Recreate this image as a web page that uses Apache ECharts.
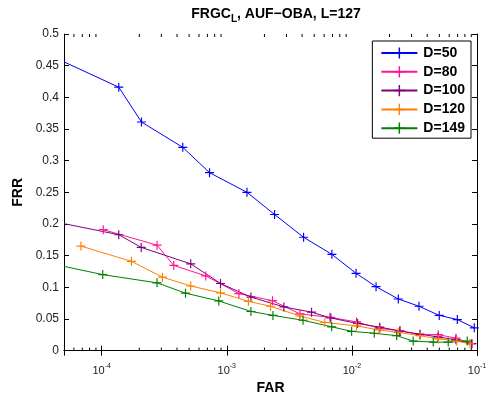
<!doctype html>
<html>
<head>
<meta charset="utf-8">
<script src="https://cdn.jsdelivr.net/npm/echarts@6/dist/echarts.min.js"></script>
<style>
  html, body { margin: 0; padding: 0; background: #fff; }
  #chart { width: 491px; height: 400px; }
</style>
</head>
<body>
<div id="chart"></div>
<script>
// data (FAR on a log scale, FRR linear)
var far50 = [5e-5, 1.37e-4, 2.08e-4, 4.45e-4, 7.28e-4, 1.45e-3, 2.41e-3, 4.11e-3, 6.92e-3, 1.08e-2, 1.56e-2, 2.35e-2, 3.44e-2, 4.99e-2, 6.96e-2, 9.51e-2];
var frr50 = [0.456, 0.416, 0.361, 0.321, 0.281, 0.250, 0.215, 0.179, 0.152, 0.122, 0.101, 0.0815, 0.070, 0.0556, 0.049, 0.036];

var far80 = [1.03e-4, 2.77e-4, 3.77e-4, 6.79e-4, 1.25e-3, 2.32e-3, 3.84e-3, 6.67e-3, 1.09e-2, 1.67e-2, 2.42e-2, 3.50e-2, 4.90e-2, 6.79e-2, 9.08e-2];
var frr80 = [0.191, 0.1665, 0.1345, 0.118, 0.090, 0.0788, 0.058, 0.0525, 0.0453, 0.035, 0.0314, 0.0252, 0.0252, 0.0196, 0.0108];

var far100 = [5e-5, 1.37e-4, 2.07e-4, 5.15e-4, 8.91e-4, 1.56e-3, 2.86e-3, 4.76e-3, 6.79e-3, 1.11e-2, 1.67e-2, 2.42e-2, 3.5e-2, 4.88e-2, 6.79e-2, 9.1e-2];
var frr100 = [0.2005, 0.183, 0.163, 0.137, 0.106, 0.0845, 0.069, 0.0607, 0.0515, 0.0428, 0.037, 0.031, 0.026, 0.0216, 0.017, 0.011];

var far120 = [6.83e-5, 1.73e-4, 3.06e-4, 5.15e-4, 8.91e-4, 1.49e-3, 2.24e-3, 3.84e-3, 6.08e-3, 1.09e-2, 1.65e-2, 2.34e-2, 3.5e-2, 4.9e-2, 6.89e-2, 8.79e-2];
var frr120 = [0.165, 0.141, 0.116, 0.102, 0.0912, 0.0778, 0.070, 0.0546, 0.0444, 0.039, 0.0325, 0.0289, 0.0236, 0.0185, 0.015, 0.0108];

var far149 = [5e-5, 1.02e-4, 2.77e-4, 4.68e-4, 8.63e-4, 1.56e-3, 2.34e-3, 4.07e-3, 6.89e-3, 9.95e-3, 1.51e-2, 2.28e-2, 3.09e-2, 4.47e-2, 5.89e-2, 8.36e-2];
var frr149 = [0.133, 0.120, 0.107, 0.0907, 0.0784, 0.0618, 0.0556, 0.0479, 0.0376, 0.0304, 0.0274, 0.0236, 0.015, 0.0134, 0.0134, 0.015];

var names = ['D=50', 'D=80', 'D=100', 'D=120', 'D=149'];
var colors = ['#0000ff', '#ff1493', '#800080', '#ff8000', '#008000'];

var XMIN = 5e-5, XMAX = 0.1;
// minor ticks of the log axis (2..9 x 10^n)
var minorTicks = [6e-5, 7e-5, 8e-5, 9e-5,
  2e-4, 3e-4, 4e-4, 5e-4, 6e-4, 7e-4, 8e-4, 9e-4,
  2e-3, 3e-3, 4e-3, 5e-3, 6e-3, 7e-3, 8e-3, 9e-3,
  2e-2, 3e-2, 4e-2, 5e-2, 6e-2, 7e-2, 8e-2, 9e-2];

var PLUS = 'path://M-0.13,-1h0.26v2h-0.26z M-1,-0.13h2v0.26h-2z';
var FONT = 'Liberation Sans';

// points sitting on the left border are line ends only (clipped in the original)
function zip(a, b) {
  return a.map(function (v, i) {
    if (v <= XMIN) return { value: [v, b[i]], symbol: 'none' };
    return [v, b[i]];
  });
}

function logLabel(v) {
  var e = Math.round(Math.log10(v));
  if (Math.abs(Math.log10(v) - e) > 1e-6) return '';
  return '{b|10}{s|' + e + '}';
}

var chart = echarts.init(document.getElementById('chart'));

var xs = [far50, far80, far100, far120, far149];
var ys = [frr50, frr80, frr100, frr120, frr149];

var series = names.map(function (n, i) {
  return {
    name: n,
    type: 'line',
    data: zip(xs[i], ys[i]),
    color: colors[i],
    symbol: PLUS,
    symbolSize: 9,
    showAllSymbol: true,
    lineStyle: { width: 1 },
    itemStyle: { color: colors[i] },
    emphasis: { disabled: true },
    animation: false
  };
});

series.push({
  type: 'custom',
  silent: true,
  animation: false,
  data: minorTicks.map(function (v) { return [v, 0]; }),
  renderItem: function (params, api) {
    var x = api.value(0);
    var p0 = api.coord([x, 0]);
    var p1 = api.coord([x, 0.5]);
    return {
      type: 'group',
      children: [
        { type: 'line', shape: { x1: p0[0], y1: p0[1], x2: p0[0], y2: p0[1] - 3 }, style: { stroke: '#000', lineWidth: 1 } },
        { type: 'line', shape: { x1: p1[0], y1: p1[1], x2: p1[0], y2: p1[1] + 3 }, style: { stroke: '#000', lineWidth: 1 } }
      ]
    };
  }
});

var axisLine = { show: true, lineStyle: { color: '#000', width: 1 } };

option = {
  backgroundColor: '#fff',
  textStyle: { fontFamily: FONT },
  title: {
    text: '{t|FRGC}{sub|L}{t|, AUF\u2212OBA, L=127}',
    left: 271, top: 0, textAlign: 'center',
    textStyle: {
      rich: {
        t: { fontFamily: FONT, fontSize: 14, fontWeight: 'bold', color: '#000' },
        sub: { fontFamily: FONT, fontSize: 10, fontWeight: 'bold', color: '#000', padding: [9, 0, 0, 0] }
      }
    }
  },
  legend: {
    data: names,
    orient: 'vertical',
    right: 20, top: 41,
    backgroundColor: '#fff',
    borderColor: '#000', borderWidth: 1, borderRadius: 0,
    padding: [5, 6, 3, 8],
    itemWidth: 36, itemHeight: 14, itemGap: 4.8,
    textStyle: { fontFamily: FONT, fontSize: 14, fontWeight: 'bold', color: '#000', padding: [0, 0, 0, 1] }
  },
  grid: { left: 64, right: 14, top: 34, bottom: 43, containLabel: false },
  xAxis: [{
    type: 'log', min: XMIN, max: XMAX, logBase: 10,
    name: 'FAR', nameLocation: 'middle', nameGap: 26,
    nameTextStyle: { fontFamily: FONT, fontSize: 14, fontWeight: 'bold', color: '#000' },
    axisLine: axisLine,
    axisTick: { inside: true, length: 5, lineStyle: { color: '#000' } },
    splitLine: { show: false },
    axisLabel: {
      margin: 12, color: '#000',
      formatter: logLabel,
      rich: {
        b: { fontFamily: FONT, fontSize: 11, color: '#222' },
        s: { fontFamily: FONT, fontSize: 7, color: '#222', padding: [0, 0, 9, 0] }
      }
    }
  }, {
    type: 'log', min: XMIN, max: XMAX, logBase: 10, position: 'top',
    axisLine: axisLine,
    axisTick: { inside: true, length: 5, lineStyle: { color: '#000' } },
    axisLabel: { show: false },
    splitLine: { show: false }
  }],
  yAxis: [{
    type: 'value', min: 0, max: 0.5, interval: 0.05,
    name: 'FRR', nameLocation: 'middle', nameGap: 31,
    nameTextStyle: { fontFamily: FONT, fontSize: 14, fontWeight: 'bold', color: '#000' },
    axisLine: axisLine,
    axisTick: { inside: true, length: 5, lineStyle: { color: '#000' } },
    splitLine: { show: false },
    axisLabel: {
      margin: 5, fontFamily: FONT, fontSize: 12, color: '#222',
      formatter: function (v) { return String(+v.toFixed(2)); }
    }
  }, {
    type: 'value', min: 0, max: 0.5, interval: 0.05, position: 'right',
    axisLine: axisLine,
    axisTick: { inside: true, length: 5, lineStyle: { color: '#000' } },
    axisLabel: { show: false },
    splitLine: { show: false }
  }],
  series: series
};

chart.setOption(option);
</script>
</body>
</html>
